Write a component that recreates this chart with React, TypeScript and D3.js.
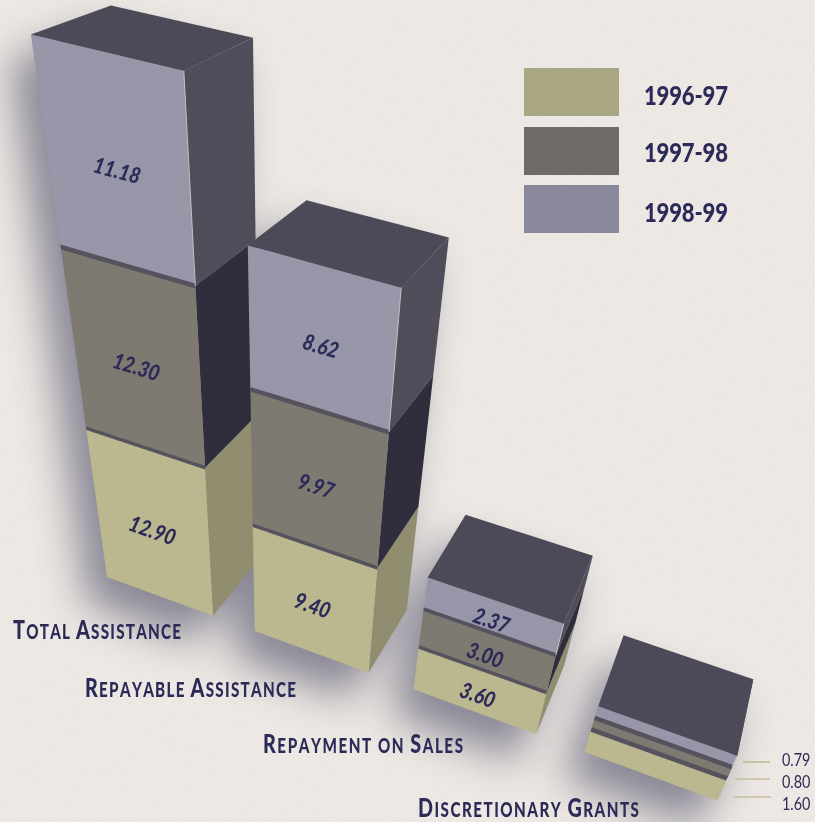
import React from 'react';
import * as d3 from 'd3';

const categories = ['Total Assistance', 'Repayable Assistance', 'Repayment on Sales', 'Discretionary Grants'];
const years = ['1996-97', '1997-98', '1998-99'];
const values9697 = [12.9, 9.4, 3.6, 1.6];
const values9798 = [12.3, 9.97, 3.0, 0.8];
const values9899 = [11.18, 8.62, 2.37, 0.79];
const valueLabels = [
  ['12.90', '9.40', '3.60', '1.60'],
  ['12.30', '9.97', '3.00', '0.80'],
  ['11.18', '8.62', '2.37', '0.79'],
];

// the print isn't quite to scale, small stacks were drawn taller
const heightStretch = [1, 1.015, 1.13, 1.4];

const WIDTH = 815;
const HEIGHT = 822;
const INK = '#2b2957';
const FONT = 'Lato, "Open Sans", sans-serif';

const frontColors = ['#bcb88f', '#7e7a71', '#9897a9'];
const sideColors = ['#918d6f', '#2f2d3b', '#504d5b'];
const legendColors = ['#aaa784', '#6e6a65', '#8b8a9c'];
const topColor = '#4c4958';
const bandColor = '#55525e';
const paper = '#eee9e4';

const rows = categories.map((c, i) => ({
  category: c,
  [years[0]]: values9697[i],
  [years[1]]: values9798[i],
  [years[2]]: values9899[i],
}));
const stacked = d3.stack<any>().keys(years)(rows);

const xBand = d3.scaleBand().domain(categories).range([0, 5.14]).paddingInner(0.275);
const zScales = categories.map((_, i) =>
  d3.scaleLinear().domain([0, 40]).range([0, 40 * heightStretch[i]])
);

// camera matrix fitted to the vanishing points of the picture
function project(x: number, y: number, z: number): [number, number] {
  const w = 1 - 0.0252 * x + 0.065 * y - 0.00857 * z;
  const u = 107 + 100.6 * x + 62.3 * y - 2.357 * z;
  const v = 577 + 23.3 * x - 19.5 * y - 15.21 * z;
  return [u / w, v / w];
}

const line = d3.line();
const poly = (pts: [number, number][]) => line(pts) + 'Z';

function barShape(col: number) {
  const x0 = xBand(categories[col]) as number;
  const x1 = x0 + xBand.bandwidth();
  const z = zScales[col];
  const front = (a: number, b: number) =>
    poly([project(x0, 0, z(a)), project(x1, 0, z(a)), project(x1, 0, z(b)), project(x0, 0, z(b))]);
  const side = (a: number, b: number) =>
    poly([project(x1, 0, z(a)), project(x1, 1, z(a)), project(x1, 1, z(b)), project(x1, 0, z(b))]);
  return { x0, x1, z, front, side };
}

function Bar({ col }: { col: number }) {
  const { x0, x1, z, front, side } = barShape(col);
  const total = stacked[2][col][1];
  return (
    <g>
      {stacked.map((s, k) => (
        <g key={k}>
          <path d={side(s[col][0], s[col][1])} fill={sideColors[k]} />
          <path d={front(s[col][0], s[col][1])} fill={frontColors[k]} />
        </g>
      ))}
      {stacked.slice(1).map((s, k) => (
        <path key={k} d={front(s[col][0] - 0.15, s[col][0] + 0.15)} fill={bandColor} />
      ))}
      <path
        d={poly([project(x0, 0, z(total)), project(x1, 0, z(total)), project(x1, 1, z(total)), project(x0, 1, z(total))])}
        fill={topColor}
      />
      <path
        d={line([project(x1, 0, z(total)), project(x1, 0, z(stacked[2][col][0]))]) as string}
        stroke="#d0cec8"
        strokeWidth={0.8}
        fill="none"
      />
    </g>
  );
}

function Shadow({ col }: { col: number }) {
  const { x0, x1, z } = barShape(col);
  const total = stacked[2][col][1];
  const pts: [number, number][] = [];
  [x0, x1].forEach(x => [0, 1].forEach(y => [0, total].forEach(v => pts.push(project(x, y, z(v))))));
  const hull = d3.polygonHull(pts) as [number, number][];
  return <path d={poly(hull)} transform="translate(-20,26)" fill="#716f83" />;
}

function ValueLabels({ col }: { col: number }) {
  const { x0, x1, z } = barShape(col);
  if (col === 3) return null;
  return (
    <g>
      {stacked.map((s, k) => {
        const [a, b] = s[col];
        const mid = z((a + b) / 2);
        const [px, py] = project((x0 + x1) / 2, 0, mid);
        const left = project(x0, 0, mid);
        const right = project(x1, 0, mid);
        const angle = (Math.atan2(right[1] - left[1], right[0] - left[0]) * 180) / Math.PI;
        return (
          <text
            key={k}
            transform={`translate(${px},${py + 4}) rotate(${angle}) scale(0.85,1)`}
            dy="0.36em"
            textAnchor="middle"
            fontFamily={FONT}
            fontWeight={900}
            fontStyle="italic"
            fontSize={22}
            fill={INK}
          >
            {valueLabels[k][col]}
          </text>
        );
      })}
    </g>
  );
}

// small caps: capitals big, the rest as smaller capitals
function SmallCaps({ text, x, y, width }: { text: string; x: number; y: number; width: number }) {
  const sx = 0.76;
  return (
    <text
      transform={`translate(${x},${y}) scale(${sx},1)`}
      textLength={width / sx}
      lengthAdjust="spacing"
      fontFamily={FONT}
      fontWeight={900}
      fill={INK}
      fontSize={20}
    >
      {text.split('').map((ch, i) =>
        ch >= 'A' && ch <= 'Z' ? (
          <tspan key={i} fontSize={26}>{ch}</tspan>
        ) : (
          <tspan key={i}>{ch.toUpperCase()}</tspan>
        )
      )}
    </text>
  );
}

const categoryPlacement = [
  { x: 13, y: 639, width: 168 },
  { x: 85, y: 697, width: 211 },
  { x: 263, y: 753, width: 200 },
  { x: 418, y: 817, width: 221 },
];

const legendTops = [68, 127, 185];
const legendHeight = 48;
const legendBaselines = [105, 162, 222];

const smallBarLabels = ['0.79', '0.80', '1.60'];
const leaders = [
  { x1: 743, x2: 770, y: 762, ty: 766 },
  { x1: 735, x2: 770, y: 779, ty: 788 },
  { x1: 733, x2: 771, y: 797, ty: 810 },
];

export default function App() {
  return (
    <svg
      width={WIDTH}
      height={HEIGHT}
      viewBox={`0 0 ${WIDTH} ${HEIGHT}`}
      style={{ position: 'absolute', left: 0, top: 0, display: 'block' }}
    >
      <defs>
        <filter id="soft" x="-60%" y="-60%" width="220%" height="220%">
          <feGaussianBlur stdDeviation="20" />
        </filter>
        <filter id="grain">
          <feTurbulence type="fractalNoise" baseFrequency="0.9" numOctaves={2} seed={3} />
          <feColorMatrix values="0 0 0 0 0.3  0 0 0 0 0.3  0 0 0 0 0.3  0 0 0 0.9 -0.35" />
        </filter>
      </defs>
      <rect width={WIDTH} height={HEIGHT} fill={paper} />
      <g filter="url(#soft)" opacity={0.8}>
        {categories.map((_, i) => (
          <Shadow key={i} col={i} />
        ))}
      </g>
      {categories.map((_, i) => (
        <Bar key={i} col={i} />
      ))}
      {categories.map((_, i) => (
        <ValueLabels key={i} col={i} />
      ))}
      {categories.map((c, i) => (
        <SmallCaps key={c} text={c} {...categoryPlacement[i]} />
      ))}
      {years.map((y, i) => (
        <g key={y}>
          <rect x={524} y={legendTops[i]} width={95} height={legendHeight} fill={legendColors[i]} />
          <text
            transform={`translate(644,${legendBaselines[i]}) scale(0.85,1)`}
            textLength={84 / 0.85}
            lengthAdjust="spacing"
            fontFamily={FONT}
            fontWeight={900}
            fontSize={26}
            fill={INK}
          >
            {y}
          </text>
        </g>
      ))}
      {leaders.map((l, i) => (
        <g key={i}>
          <line x1={l.x1} x2={l.x2} y1={l.y} y2={l.y} stroke="#b3ab7c" strokeWidth={1.2} />
          <text
            transform={`translate(782,${l.ty}) scale(0.8,1)`}
            fontFamily={FONT}
            fontSize={18}
            fill={INK}
          >
            {smallBarLabels[i]}
          </text>
        </g>
      ))}
      <rect width={WIDTH} height={HEIGHT} filter="url(#grain)" opacity={0.12} />
    </svg>
  );
}
